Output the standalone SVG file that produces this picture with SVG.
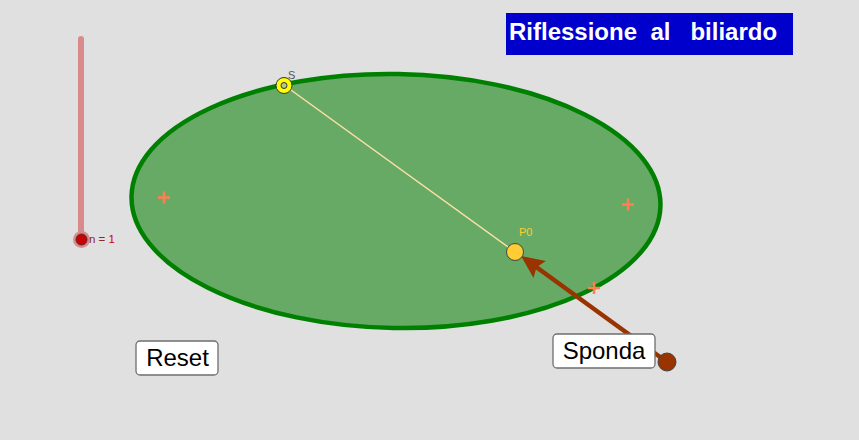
<svg xmlns="http://www.w3.org/2000/svg" width="859" height="440" viewBox="0 0 859 440">
<style>
text{font-family:"Liberation Sans",Arial,sans-serif}
.cross{stroke:#ff7f50;stroke-width:2.500;fill:none}
.btn rect{fill:#fff;stroke:#6e6e6e;stroke-width:1.300}
.btn text{font-size:24px;fill:#000;text-anchor:middle}
</style>
<defs>
<marker id="arrow" markerUnits="userSpaceOnUse" markerWidth="28" markerHeight="26" refX="12" refY="13" orient="auto">
<path d="M0 2.500 L23 13 L0 23.500 L4 13 Z" fill="#993300"/>
</marker>
</defs>
<rect width="859" height="440" fill="#e0e0e0"/>
<g id="title"><rect x="506" y="13" width="287" height="42" fill="#0000cc"/>
<text x="509" y="40" font-size="24" font-weight="bold" fill="#fff" xml:space="preserve">Riflessione  al   biliardo</text></g>
<g id="slider">
<line x1="81" y1="39" x2="81" y2="239" stroke="#d98a8a" stroke-width="6" stroke-linecap="round"/>
<circle cx="81.500" cy="239.500" r="8.500" fill="#d98a8a"/>
<circle cx="81.500" cy="239.500" r="5.500" fill="#cc0000" stroke="#5a2a2a" stroke-width="1"/>
<text x="89" y="243" font-size="11.500" fill="#8a2a2a">n = <tspan fill="#cc0000">1</tspan></text></g>
<g id="table"><ellipse cx="396" cy="201" rx="264.500" ry="127" transform="rotate(1 396 201)" fill="#66aa66" stroke="#008000" stroke-width="4.500"/></g>
<g id="foci">
<path class="cross" d="M158 197.500h12M164 191.500v12M622 204.500h12M628 198.500v12M588 288h12M594 282v12"/></g>
<g id="connectors">
<line x1="284" y1="85" x2="515" y2="252" stroke="#ffe0a8" stroke-width="1.500"/>
<line x1="667" y1="362" x2="530" y2="262.500" stroke="#993300" stroke-width="4.500" marker-end="url(#arrow)"/>
</g>
<g id="S"><circle cx="284" cy="85.500" r="8" fill="#ffff00" stroke="#333" stroke-width="1"/>
<circle cx="284" cy="85.500" r="3" fill="#b5c98a" stroke="#333" stroke-width="1"/>
<text x="288" y="79" font-size="11" fill="#555">S</text></g>
<g id="P0"><circle cx="515" cy="252" r="8.500" fill="#ffcc33" stroke="#444" stroke-width="1"/>
<text x="519" y="236" font-size="11" fill="#ffcc33">P0</text></g>
<g id="handle"><circle cx="667" cy="362" r="9" fill="#993300" stroke="#444" stroke-width="1"/></g>
<g id="reset" class="btn"><rect x="136" y="341" width="82" height="34" rx="4"/><text x="177.500" y="366">Reset</text></g>
<g id="sponda" class="btn"><rect x="553" y="334" width="102" height="34" rx="4"/><text x="604" y="359">Sponda</text></g>
</svg>
